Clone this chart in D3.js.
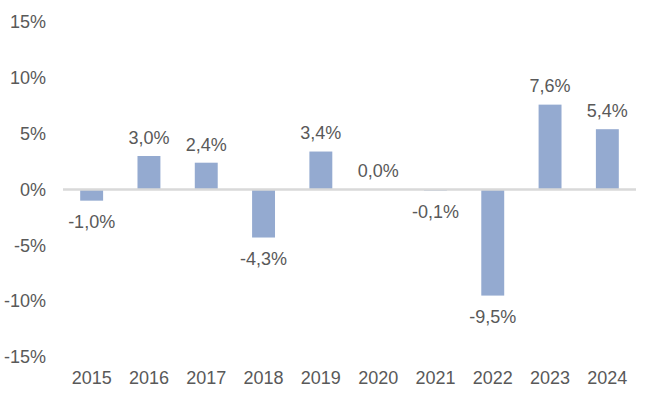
<!DOCTYPE html>
<html>
<head>
<meta charset="utf-8">
<script src="https://cdn.jsdelivr.net/npm/d3@7"></script>
<style>
  body { margin: 0; background: #fff; }
  text { font-family: "Liberation Sans", Arial, sans-serif; fill: #595959; }
</style>
</head>
<body>
<div id="chart"></div>
<script>
// data
const years = ['2015', '2016', '2017', '2018', '2019', '2020', '2021', '2022', '2023', '2024'];
const values = [-1.0, 3.0, 2.4, -4.3, 3.4, 0.0, -0.1, -9.5, 7.6, 5.4];
const yTicks = [-15, -10, -5, 0, 5, 10, 15];

const width = 649, height = 402;
let margin = { top: 22, left: 63, right: 13, bottom: 45 };

let svg = d3.select('#chart')
  .append('svg')
  .attr('width', width)
  .attr('height', height);

const x = d3.scaleBand()
  .domain(years)
  .range([margin.left, width - margin.right])
  .paddingInner(0.6)
  .paddingOuter(0.3);

const y = d3.scaleLinear()
  .domain([-15, 15])
  .range([height - margin.bottom, margin.top]);

// y axis labels
svg.append('g')
  .selectAll('text')
  .data(yTicks)
  .join('text')
    .attr('x', 46)
    .attr('y', d => y(d))
    .attr('dy', '0.35em')
    .attr('text-anchor', 'end')
    .style('font-size', '18px')
    .text(d => d + '%');

// bars
svg.append('g')
  .selectAll('rect')
  .data(values)
  .join('rect')
    .attr('x', (d, i) => x(years[i]))
    .attr('width', x.bandwidth())
    .attr('y', d => y(Math.max(0, d)))
    .attr('height', d => Math.abs(y(d) - y(0)))
    .style('fill', '#94aad0');

// zero line (drawn over bars)
svg.append('line')
  .attr('x1', margin.left)
  .attr('x2', width - margin.right)
  .attr('y1', y(0))
  .attr('y2', y(0))
  .style('stroke', '#d9d9d9')
  .style('stroke-width', 2.6);

// value labels
svg.append('g')
  .selectAll('text')
  .data(values)
  .join('text')
    .attr('x', (d, i) => x(years[i]) + x.bandwidth() / 2)
    .attr('y', d => d >= 0 ? y(d) - 18.5 : y(d) + 21)
    .attr('dy', '0.35em')
    .attr('text-anchor', 'middle')
    .style('font-size', '18px')
    .text(d => d.toFixed(1).replace('.', ',') + '%');

// x axis labels
svg.append('g')
  .selectAll('text')
  .data(years)
  .join('text')
    .attr('x', d => x(d) + x.bandwidth() / 2)
    .attr('y', 378)
    .attr('dy', '0.35em')
    .attr('text-anchor', 'middle')
    .style('font-size', '18px')
    .text(d => d);
</script>
</body>
</html>
